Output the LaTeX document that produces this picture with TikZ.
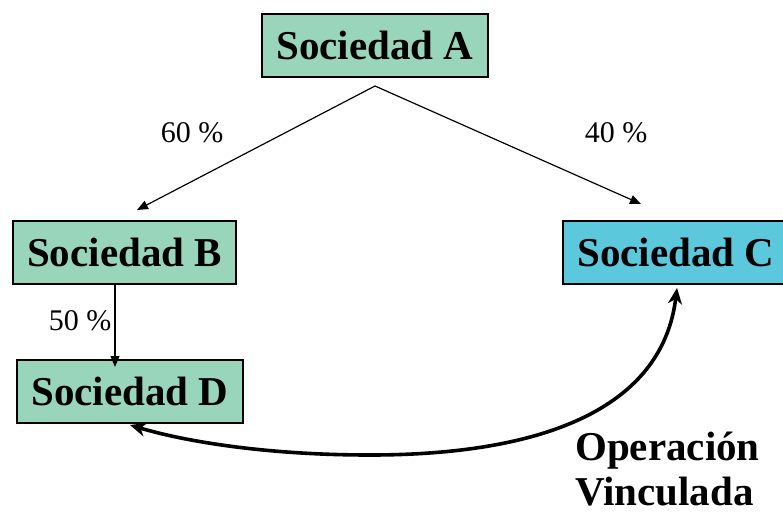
\documentclass[tikz,border=0pt]{standalone}
\usepackage{fontspec}
\setmainfont{Liberation Serif}
\usetikzlibrary{arrows.meta}
\definecolor{boxgreen}{RGB}{153,213,186}
\definecolor{boxblue}{RGB}{91,200,220}
\begin{document}
\begin{tikzpicture}[x=1pt,y=-1pt,
  soc/.style={draw=black,line width=1.3pt,minimum height=63pt,inner sep=0pt,font=\fontsize{41}{45}\selectfont\bfseries},
  pct/.style={font=\fontsize{30}{34}\selectfont,inner sep=0pt},
  thin/.style={line width=1.2pt,-{Triangle[length=11pt,width=9pt]}},
  thick/.style={line width=3.6pt,{Stealth[length=16pt,width=14pt,inset=5pt]}-{Stealth[length=16pt,width=14pt,inset=5pt]}}]
\useasboundingbox (0,0) rectangle (783,514);
\clip (0,0) rectangle (783,514);
\node[soc,fill=boxgreen,minimum width=226pt] (A) at (375,45.5) {Sociedad A};
\node[soc,fill=boxgreen,minimum width=223pt] (B) at (124.5,252.5) {Sociedad B};
\node[soc,fill=boxblue,minimum width=226pt] (C) at (676,252.5) {Sociedad C};
\node[soc,fill=boxgreen,minimum width=226pt] (D) at (130,391.5) {Sociedad D};
\coordinate (a0) at (375,86);
\coordinate (bt) at (137,210);
\coordinate (ct) at (641,204);
\coordinate (bd0) at (115,284);
\coordinate (bd1) at (115,367);
\coordinate (cb) at (677,288);
\coordinate (db) at (130,425);
\draw[thin] (a0) -- (bt);
\draw[thin] (a0) -- (ct);
\draw[thin] (bd0) -- (bd1);
\node[pct] (p60) at (192,133) {60 \%};
\node[pct] (p40) at (616,133) {40 \%};
\node[pct] (p50) at (80,321) {50 \%};
\draw[thick] (cb) .. controls (662,410) and (540,455) .. (370,455) .. controls (260,455) and (180,440) .. (db);
\node[font=\fontsize{41}{45}\selectfont\bfseries,align=left,anchor=north west,inner sep=0pt] (op) at (575,432) {Operación\\Vinculada};
\end{tikzpicture}
\end{document}
